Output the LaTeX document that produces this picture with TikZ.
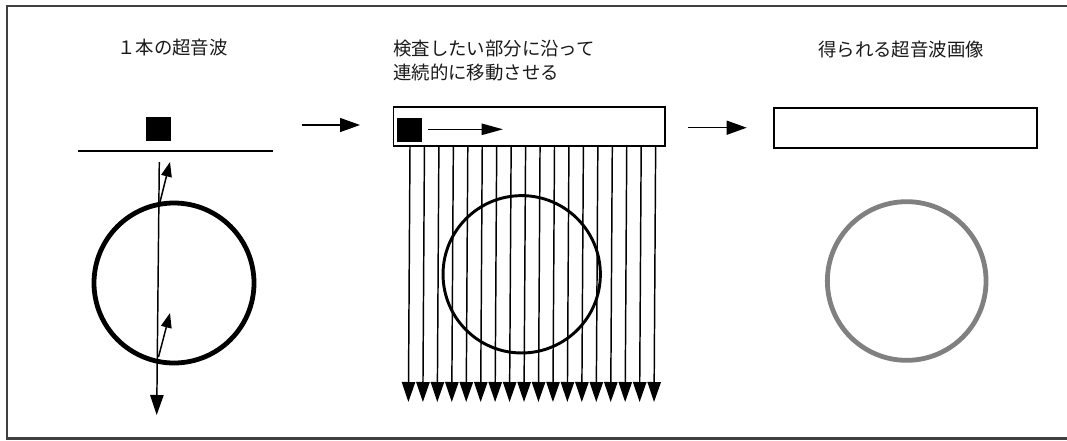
\documentclass[tikz,border=0pt]{standalone}
\usepackage{fontspec}
\newfontfamily\jp{Noto Sans CJK JP}
\usetikzlibrary{arrows.meta}
\begin{document}
\begin{tikzpicture}[x=0.75pt,y=-0.75pt,
  lbl/.style={font=\jp\fontsize{13.8pt}{17pt}\selectfont, anchor=west, inner sep=0pt, text=black!90},
  thin/.style={line width=1.1pt},
  bighead/.style={-{Triangle[length=15pt,width=10.5pt]}},
  smallhead/.style={-{Triangle[length=11pt,width=8pt]}},
  beamhead/.style={-{Triangle[length=15pt,width=10pt]}},
  sq/.style={fill=black, minimum width=18.5pt, minimum height=18pt, inner sep=0pt},
  bar/.style={draw, line width=1.3pt, inner sep=0pt}]
\useasboundingbox (0,0) rectangle (1067,440);
% frame
\draw[line width=1.6pt, black!75] (1067,6) -- (7,6) -- (7,438.5) -- (1067,438.5);

% titles
\node[lbl] (t1) at (117,48) {１本の超音波};
\node[lbl] (t2) at (393,49) {検査したい部分に沿って};
\node[lbl] (t3) at (393,73) {連続的に移動させる};
\node[lbl] (t4) at (818,50) {得られる超音波画像};

% ---------- panel 1 ----------
\node[sq] (s1) at (158.5,129) {};
\coordinate (hl) at (78,151);
\coordinate (hr) at (273,151);
\draw[line width=1.4pt] (hl) -- (hr);
\coordinate (c1) at (174,283);
\draw[line width=3.6pt] (c1) circle [radius=60pt];
\coordinate (b1s) at (159.3,162);
\coordinate (b1e) at (156.7,415);
\draw[thin, beamhead] (b1s) -- (b1e);
\coordinate (r1s) at (159,206);
\coordinate (r1e) at (170,162);
\draw[thin, smallhead] (r1s) -- (r1e);
\coordinate (r2s) at (158.5,357);
\coordinate (r2e) at (170,313);
\draw[thin, smallhead] (r2s) -- (r2e);

% arrow 1 -> 2
\coordinate (a1s) at (301.7,125);
\coordinate (a1e) at (360,125);
\draw[thin, bighead] (a1s) -- (a1e);

% ---------- panel 2 ----------
\node[bar, minimum width=203.5pt, minimum height=29.5pt] (p2) at (529.2,126.3) {};
\node[sq] (s2) at (409.8,130) {};
\coordinate (m1) at (428,129.3);
\coordinate (m2) at (503,129.3);
\draw[thin, -{Triangle[length=16pt,width=8.5pt]}] (m1) -- (m2);
\foreach \i in {0,...,17}{
  \pgfmathsetmacro{\xx}{410+14.45*\i}
  \coordinate (bt\i) at (\xx,146);
  \coordinate (bb\i) at (\xx-1.6,402);
  \draw[thin, beamhead] (bt\i) -- (bb\i);
}
\coordinate (c2) at (521.7,274.3);
\draw[line width=2.2pt] (c2) circle [radius=59pt];

% arrow 2 -> 3
\coordinate (a2s) at (688,127.7);
\coordinate (a2e) at (746.7,127.7);
\draw[thin, bighead] (a2s) -- (a2e);

% ---------- panel 3 ----------
\node[bar, minimum width=196.8pt, minimum height=30pt] (p3) at (905.5,128.3) {};
\coordinate (c3) at (906.7,281);
\draw[line width=3.6pt, black!50] (c3) circle [radius=59.5pt];
\end{tikzpicture}
\end{document}
